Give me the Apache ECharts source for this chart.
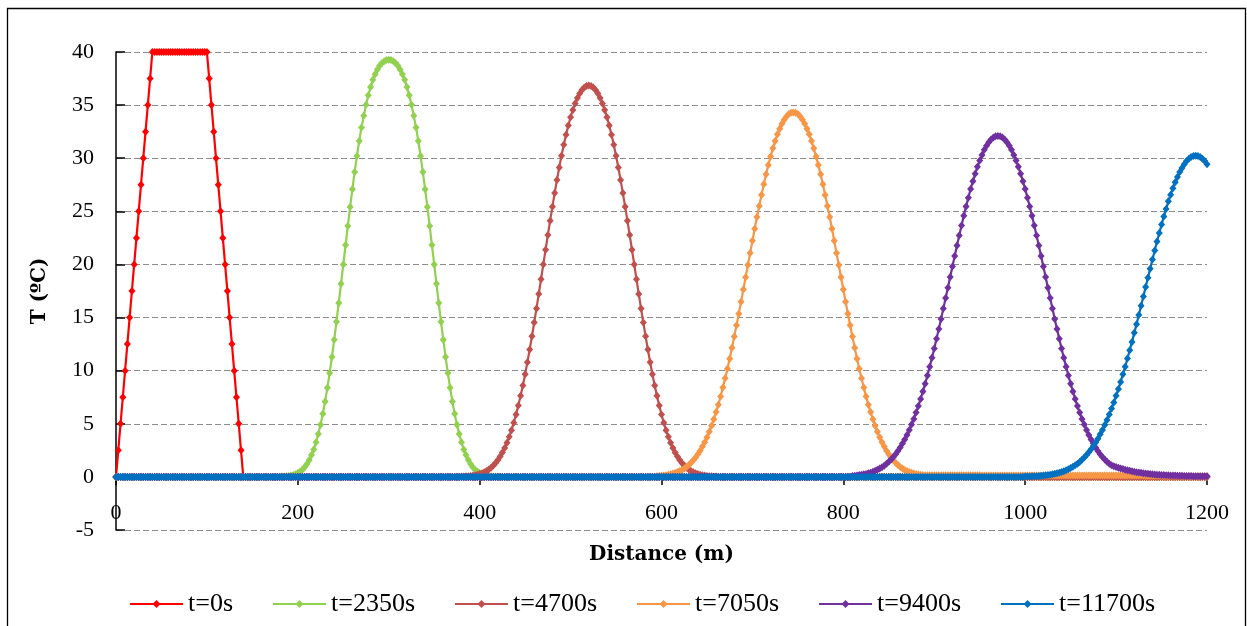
<!DOCTYPE html>
<html><head><meta charset="utf-8">
<script src="https://cdn.jsdelivr.net/npm/echarts/dist/echarts.min.js"></script>
<style>html,body{margin:0;padding:0;background:#fff}#c{width:1247px;height:626px}</style>
</head><body><div id="c"></div>
<script>
// ---------- data (temperature profiles) ----------
const X_STEP = 2.5;            // sampling distance of every profile (m)
const X_MAX = 1200;
const seriesNames = ['t=0s', 't=2350s', 't=4700s', 't=7050s', 't=9400s', 't=11700s'];
const seriesColors = ['#FF0000', '#92D050', '#C0504D', '#F79646', '#7030A0', '#0070C0'];
const xTickInterval = 200;
const yMin = -5, yMax = 40, yTickInterval = 5;

// each profile: first distance of the listed values, then T values every 2.5 m (0 elsewhere)
const redStart = 0;
const redValues = [0,2.5,5,7.5,10,12.5,15,17.5,20,22.5,25,27.5,30,32.5,35,37.5,40,
  40,40,40,40,40,40,40,40,40,40,40,40,40,40,40,40,40,40,40,40,40,40,40,40,
  37.5,35,32.5,30,27.5,25,22.5,20,17.5,15,12.5,10,7.5,5,2.5,0];

const greenStart = 180;
const greenValues = [0.02,0.03,0.04,0.06,0.09,0.13,0.18,0.26,0.36,0.50,0.68,0.91,1.21,1.59,2.05,2.59,3.25,4.03,4.92,5.95,7.10,8.38,9.78,11.29,12.91,14.60,16.37,18.18,20.00,21.82,23.63,25.40,27.09,28.71,30.22,31.62,32.90,33.99,35.04,35.94,36.71,37.38,37.91,38.35,38.71,38.96,39.14,39.24,
  39.28,
  39.24,39.14,38.96,38.71,38.35,37.91,37.38,36.71,35.94,35.04,33.99,32.90,31.62,30.22,28.71,27.09,25.40,23.63,21.82,20.00,18.18,16.37,14.60,12.91,11.29,9.78,8.38,7.10,5.95,4.92,4.03,3.25,2.59,2.05,1.59,1.21,0.91,0.68,0.50,0.36,0.26,0.18,0.13,0.09,0.06,0.04,0.03,0.02];

const brownStart = 380;
const brownValues = [0.03,0.04,0.05,0.07,0.09,0.12,0.16,0.21,0.27,0.35,0.44,0.56,0.69,0.86,1.07,1.30,1.58,1.91,2.29,2.72,3.22,3.78,4.40,5.10,5.87,6.71,7.63,8.61,9.67,10.80,11.99,13.24,14.53,15.86,17.22,18.61,20.00,21.38,22.77,24.12,25.44,26.72,27.96,29.13,30.24,31.27,32.21,33.08,33.86,34.55,35.16,35.67,36.09,36.42,36.65,36.79,
  36.84,
  36.79,36.65,36.42,36.09,35.67,35.16,34.55,33.86,33.08,32.21,31.27,30.24,29.13,27.96,26.72,25.44,24.12,22.77,21.38,20.00,18.61,17.22,15.86,14.53,13.24,11.99,10.80,9.67,8.61,7.63,6.71,5.87,5.10,4.40,3.78,3.22,2.72,2.29,1.91,1.58,1.30,1.07,0.86,0.69,0.56,0.44,0.35,0.27,0.21,0.16,0.12,0.09,0.07,0.05,0.04,0.03];

const orangeStart = 595;
const orangeValues = [0.06,0.08,0.10,0.13,0.16,0.20,0.25,0.31,0.37,0.45,0.55,0.66,0.79,0.94,1.12,1.33,1.57,1.83,2.12,2.46,2.85,3.27,3.73,4.24,4.81,5.43,6.10,6.80,7.57,8.41,9.28,10.19,11.13,12.15,13.21,14.27,15.36,16.48,17.64,18.79,19.94,21.08,22.22,23.36,24.46,25.51,26.53,27.54,28.49,29.36,30.17,30.93,31.63,32.26,32.78,33.24,33.62,33.93,34.16,34.27,
  34.31,
  34.27,34.16,33.93,33.62,33.24,32.78,32.26,31.63,30.93,30.17,29.36,28.49,27.54,26.53,25.51,24.46,23.36,22.22,21.08,19.94,18.79,17.64,16.48,15.36,14.27,13.21,12.15,11.13,10.19,9.28,8.41,7.57,6.80,6.10,5.43,4.81,4.24,3.73,3.27,2.85,2.46,2.12,1.83,1.57,1.33,1.12,0.94,0.79,0.66,0.55,
  0.45,0.38,0.32,0.27,0.23,0.20,0.18,0.16,
  0.15,0.15,0.15,0.15,0.15,0.15,0.15,0.15,0.15,0.15,0.15,0.15,0.15,0.15,0.15,0.15,0.15,0.15,0.15,0.15,0.15,0.15,0.15,0.15,
  0.14,0.14,0.14,0.14,0.14,0.14,0.14,0.14,0.14,0.14,0.14,0.14,0.14,0.14,0.14,0.14,0.14,0.14,0.14,0.14,0.14,0.14,0.14,0.14,
  0.13,0.13,0.13,0.13,0.13,0.13,0.13,0.13,0.13,0.13,0.13,0.13,0.13,0.13,0.13,0.13,0.13,0.13,0.13,0.13,0.13,0.13,0.13,0.13,
  0.12,0.12,0.12,0.12,0.12,0.12,0.12,0.12,0.12,0.12,0.12,0.12,0.12,0.12,0.12,0.12,0.12,0.12,0.12,0.12,0.12,0.12,0.12,0.12,
  0.11,0.11,0.11,0.11,0.10,0.10,0.10,0.10,0.09,0.09,0.09,0.09,0.08,0.08,0.08,0.08,0.07,0.07,0.07,0.07,0.06,0.06,0.06,0.06,0.05,0.05,0.05,0.05];

const purpleStart = 810;
const purpleValues = [0.09,0.11,0.14,0.17,0.20,0.24,0.28,0.34,0.40,0.48,0.57,0.67,0.78,0.91,1.06,1.24,1.43,1.64,1.87,2.14,2.44,2.77,3.14,3.52,3.95,4.42,4.93,5.46,6.06,6.67,7.33,8.04,8.78,9.54,10.38,11.22,12.08,13.00,13.92,14.87,15.85,16.83,17.80,18.81,19.80,20.79,21.78,22.72,23.66,24.58,25.45,26.29,27.10,27.84,28.54,29.20,29.78,30.31,30.79,31.18,31.50,31.77,31.94,32.06,
  32.10,
  32.06,31.94,31.77,31.50,31.18,30.79,30.31,29.78,29.20,28.54,27.84,27.10,26.29,25.45,24.58,23.66,22.72,21.78,20.79,19.80,18.81,17.80,16.83,15.85,14.87,13.92,13.00,12.08,11.22,10.38,9.54,8.78,8.04,7.33,6.67,6.06,5.46,4.93,4.42,3.95,3.52,3.14,2.77,2.44,2.14,1.87,1.64,1.43,1.24,
  1.10,1.00,0.92,0.86,0.80,0.74,0.68,0.62,0.57,0.52,0.48,0.44,0.41,0.38,0.35,0.32,0.29,0.27,0.25,0.23,0.21,0.19,0.18,0.17,0.16,0.15,0.14,0.13,0.12,0.11,0.10,0.10,0.09,0.09,0.08,0.08,0.07,0.07,0.06,0.06,0.06,0.05,0.05];

const blueStart = 997.5;
const blueValues = [0.02,0.03,0.03,0.04,0.05,0.06,0.07,0.09,0.11,0.13,0.15,0.18,0.21,0.25,0.29,0.34,0.40,0.46,0.54,0.62,0.72,0.83,0.96,1.09,1.24,1.41,1.61,1.83,2.05,2.33,2.60,2.91,3.24,3.60,4.01,4.42,4.88,5.36,5.87,6.43,7.01,7.63,8.28,8.93,9.66,10.37,11.14,11.93,12.71,13.56,14.38,15.25,16.12,16.98,17.87,18.74,19.60,20.47,21.31,22.16,22.96,23.75,24.51,25.22,25.94,26.57,27.18,27.74,28.24,28.71,29.09,29.43,29.73,29.95,30.11,30.20,
  30.23,
  30.20,30.11,29.95,29.73,29.43];

const profileStarts = [redStart, greenStart, brownStart, orangeStart, purpleStart, blueStart];
const profileValues = [redValues, greenValues, brownValues, orangeValues, purpleValues, blueValues];

// ---------- build ----------
function fullProfile(start, vals) {
  const pts = [];
  for (let i = 0; i * X_STEP <= X_MAX + 1e-9; i++) {
    const x = i * X_STEP;
    const k = Math.round((x - start) / X_STEP);
    pts.push([x, (k >= 0 && k < vals.length) ? vals[k] : 0]);
  }
  return pts;
}

const legendLefts = [129, 272, 454, 636, 818, 1000];
const serif = 'Liberation Serif';
const chart = echarts.init(document.getElementById('c'), null, {renderer: 'canvas'});
chart.setOption({
  animation: false,
  backgroundColor: '#ffffff',
  grid: {left: 116, right: 40, top: 52, bottom: 96, containLabel: false, outerBoundsMode: 'none'},
  xAxis: {
    type: 'value', min: 0, max: X_MAX, interval: xTickInterval,
    name: 'Distance (m)', nameLocation: 'middle', nameGap: 15,
    nameTextStyle: {fontFamily: 'DejaVu Serif', fontWeight: 'bold', fontSize: 20, color: '#000'},
    axisLine: {show: true, onZero: true, lineStyle: {color: '#000', width: 1.5}},
    axisTick: {show: true, inside: false, length: 8, lineStyle: {color: '#000', width: 1.5}},
    axisLabel: {margin: -28, fontFamily: serif, fontSize: 22, color: '#000', formatter: v => String(v)},
    splitLine: {show: false}
  },
  yAxis: {
    type: 'value', min: yMin, max: yMax, interval: yTickInterval,
    name: 'T (ºC)', nameLocation: 'middle', nameGap: 66, nameRotate: 90,
    nameTextStyle: {fontFamily: 'DejaVu Serif', fontWeight: 'bold', fontSize: 20, color: '#000'},
    axisLine: {show: true, onZero: false, lineStyle: {color: '#000', width: 1.5}},
    axisTick: {show: true, inside: true, length: 9, lineStyle: {color: '#000', width: 1.5}},
    axisLabel: {margin: 22, fontFamily: serif, fontSize: 22, color: '#000'},
    splitLine: {show: true, lineStyle: {color: '#8c8c8c', width: 1.2, type: [6, 3]}}
  },
  legend: seriesNames.map((n, i) => ({
    data: [n], left: legendLefts[i], top: 591, padding: 0,
    itemWidth: 53, itemHeight: 10, selectedMode: false,
    textStyle: {fontFamily: serif, fontSize: 26, color: '#000'}
  })),
  graphic: [{
    type: 'rect', silent: true, z: 100,
    shape: {x: 7.5, y: 8.5, width: 1238, height: 700},
    style: {fill: 'none', stroke: '#000', lineWidth: 1.3}
  }],
  series: seriesNames.map((n, i) => ({
    name: n, type: 'line', z: 3 + i,
    data: fullProfile(profileStarts[i], profileValues[i]),
    symbol: 'diamond', symbolSize: [7, 8], showSymbol: true, showAllSymbol: true,
    lineStyle: {color: seriesColors[i], width: 2.2},
    itemStyle: {color: seriesColors[i]},
    emphasis: {disabled: true}
  }))
});
</script></body></html>
